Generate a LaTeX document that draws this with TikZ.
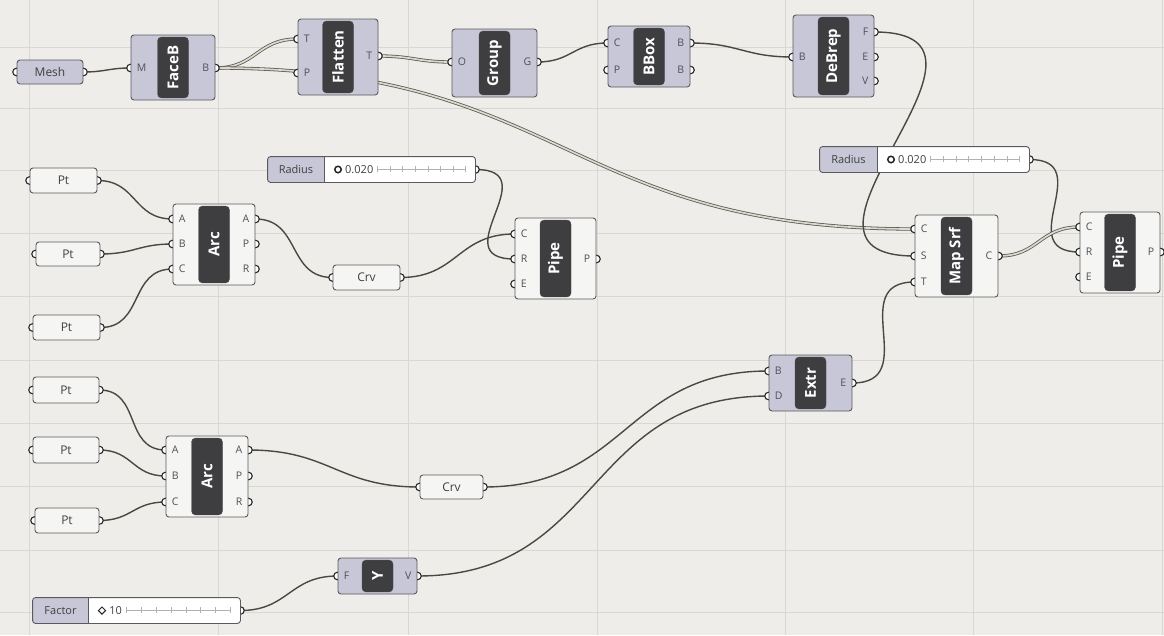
\documentclass[tikz,border=0pt]{standalone}
\usepackage{fontspec}
\setmainfont{Open Sans}
\usetikzlibrary{positioning, fit, calc, shapes.geometric}

\definecolor{canvas}{HTML}{EEEDE9}
\definecolor{gridcol}{HTML}{D9D7D1}
\definecolor{lav}{HTML}{C7C7D8}
\definecolor{paper}{HTML}{F5F5F3}
\definecolor{edge}{HTML}{5A5A5E}
\definecolor{capfill}{HTML}{3E3E40}
\definecolor{wirecol}{HTML}{4B4840}
\definecolor{treefill}{HTML}{DCD9CE}
\definecolor{portcol}{HTML}{505055}

\pgfdeclarelayer{grid}
\pgfdeclarelayer{wires}
\pgfdeclarelayer{grips}
\pgfsetlayers{grid,wires,grips,main}

\tikzset{
  compbox/.style={draw=edge, line width=0.9pt, rounded corners=3pt, inner sep=0pt},
  capbox/.style={fill=capfill, draw=black!70, rounded corners=4pt, inner sep=0pt},
  captext/.style={rotate=90, text=white, font=\fontsize{15}{15}\selectfont\bfseries, inner sep=0pt},
  portlbl/.style={text=portcol, font=\fontsize{10.5}{10.5}\selectfont, inner sep=0pt},
  paramtext/.style={text=black!75, font=\fontsize{12}{12}\selectfont, inner sep=0pt},
  grip/.style={draw=black!85, fill=white, line width=1.1pt},
  wire/.style={draw=wirecol, line width=1.4pt, out=0, in=180, looseness=1.2},
  tree/.style={draw=wirecol!90, line width=0.8pt, double=treefill, double distance=1.7pt,
               out=0, in=180, looseness=1.2},
  tickline/.style={draw=black!30, line width=0.4pt},
  gridline/.style={draw=gridcol, line width=0.8pt},
  ringmark/.style={circle, draw=black!85, line width=1.5pt, minimum size=6.5pt, inner sep=0pt},
  diamark/.style={diamond, draw=black!85, line width=1pt, minimum size=7.5pt, inner sep=0pt},
}

% component: name, left, top, right, bottom, fill, caption
\newcommand{\ghcomp}[7]{%
  \node[compbox, fill=#6, fit={(#2,#3) (#4,#5)}] (#1) {};
  \node[capbox, fit={($(#1.north)+(-15.5,2.5)$) ($(#1.south)+(15.5,-2.5)$)}] (#1-cap) {};
  \node[captext] at (#1-cap.center) {#7};
}
% input port: box, id, y, label
\newcommand{\ghin}[4]{%
  \coordinate (#1-#2) at (#1.west |- 0,#3);
  \begin{pgfonlayer}{grips}\draw[grip] (#1-#2) circle[radius=3.8pt];\end{pgfonlayer}
  \node[portlbl, anchor=west] at ([xshift=6pt]#1-#2) {#4};
}
% output port: box, id, y, label
\newcommand{\ghout}[4]{%
  \coordinate (#1-#2) at (#1.east |- 0,#3);
  \begin{pgfonlayer}{grips}\draw[grip] (#1-#2) circle[radius=3.8pt];\end{pgfonlayer}
  \node[portlbl, anchor=east] at ([xshift=-6pt]#1-#2) {#4};
}
% parameter: name, left, top, right, bottom, fill, text
\newcommand{\ghparam}[7]{%
  \node[compbox, fill=#6, fit={(#2,#3) (#4,#5)}] (#1) {};
  \node[paramtext] at (#1.center) {#7};
  \coordinate (#1-in) at (#1.west);
  \coordinate (#1-out) at (#1.east);
  \begin{pgfonlayer}{grips}
    \draw[grip] (#1-in) circle[radius=3.8pt];
    \draw[grip] (#1-out) circle[radius=3.8pt];
  \end{pgfonlayer}
}
% slider: name, left, top, right, bottom, split, label, value, marker
\newcommand{\ghslider}[9]{%
  \node[compbox, draw=none, fill=white, fit={(#2,#3) (#4,#5)}] (#1) {};
  \begin{scope}
    \clip (#2,#3) rectangle (#6,#5);
    \fill[lav, rounded corners=3pt] (#1.north west) rectangle (#1.south east);
  \end{scope}
  \draw[edge, line width=0.9pt, rounded corners=3pt] (#1.north west) rectangle (#1.south east);
  \draw[edge, line width=0.9pt] (#6,#3) -- (#6,#5);
  \node[paramtext, font=\fontsize{11}{11}\selectfont] (#1-lab) at ($(#2,#3)!0.5!(#6,#5)$) {#7};
  \node[#9] (#1-mark) at ($(#6,#3)!0.5!(#6,#5)+(14,0)$) {};
  \node[paramtext, font=\fontsize{11}{11}\selectfont, anchor=west] (#1-val)
    at ([xshift=3pt]#1-mark.east) {#8};
  \coordinate (#1-t0) at ([xshift=4pt]#1-val.east);
  \coordinate (#1-t1) at ([xshift=-10pt]#1.east);
  \draw[tickline] (#1-t0) -- (#1-t1);
  \foreach \k in {0,...,7}
    \draw[tickline] ($(#1-t0)!\k/7!(#1-t1)+(0,2)$) -- ++(0,-6);
  \coordinate (#1-out) at (#1.east);
  \begin{pgfonlayer}{grips}\draw[grip] (#1-out) circle[radius=3.8pt];\end{pgfonlayer}
}

\begin{document}
\begin{tikzpicture}[x=1pt, y=-1pt]
  \useasboundingbox (0,0) rectangle (1164,635);
  \begin{pgfonlayer}{grid}
    \fill[canvas] (0,0) rectangle (1164,635);
    \foreach \gx in {29,218,408,597,785,973,1162}
      \draw[gridline] (\gx,0) -- (\gx,635);
    \foreach \gy in {47,108,170,233,296,360,423,486,550,612}
      \draw[gridline] (0,\gy) -- (1164,\gy);
  \end{pgfonlayer}

  % top row
  \ghparam{mesh}{17}{60}{83}{84}{lav}{Mesh}
  \ghcomp{faceb}{131}{35}{215}{100}{lav}{FaceB}
  \ghin{faceb}{iM}{68}{M}
  \ghout{faceb}{oB}{68}{B}
  \ghcomp{flatten}{298}{19}{378}{95}{lav}{Flatten}
  \ghin{flatten}{iT}{39}{T}
  \ghin{flatten}{iP}{73}{P}
  \ghout{flatten}{oT}{56}{T}
  \ghcomp{group}{452}{29}{537}{97}{lav}{Group}
  \ghin{group}{iO}{62}{O}
  \ghout{group}{oG}{62}{G}
  \ghcomp{bbox}{608}{26}{690}{87}{lav}{BBox}
  \ghin{bbox}{iC}{43}{C}
  \ghin{bbox}{iP}{70}{P}
  \ghout{bbox}{oB}{43}{B}
  \ghout{bbox}{oB2}{70}{B}
  \ghcomp{debrep}{793}{15}{874}{97}{lav}{DeBrep}
  \ghin{debrep}{iB}{57}{B}
  \ghout{debrep}{oF}{32}{F}
  \ghout{debrep}{oE}{57}{E}
  \ghout{debrep}{oV}{81}{V}

  % right side
  \ghslider{radR}{820}{147}{1029}{172}{877}{Radius}{0.020}{ringmark}
  \ghcomp{mapsrf}{915}{215}{998}{297}{paper}{Map Srf}
  \ghin{mapsrf}{iC}{229}{C}
  \ghin{mapsrf}{iS}{256}{S}
  \ghin{mapsrf}{iT}{282}{T}
  \ghout{mapsrf}{oC}{256}{C}
  \ghcomp{pipeR}{1080}{212}{1160}{293}{paper}{Pipe}
  \ghin{pipeR}{iC}{227}{C}
  \ghin{pipeR}{iR}{252}{R}
  \ghin{pipeR}{iE}{277}{E}
  \ghout{pipeR}{oP}{252}{P}
  \ghcomp{extr}{769}{355}{852}{411}{lav}{Extr}
  \ghin{extr}{iB}{371}{B}
  \ghin{extr}{iD}{396}{D}
  \ghout{extr}{oE}{383}{E}

  % upper arc
  \ghparam{pt1}{30}{168}{97}{193}{paper}{Pt}
  \ghparam{pt2}{36}{242}{100}{266}{paper}{Pt}
  \ghparam{pt3}{33}{315}{100}{340}{paper}{Pt}
  \ghcomp{arcT}{173}{204}{255}{285}{paper}{Arc}
  \ghin{arcT}{iA}{219}{A}
  \ghin{arcT}{iB}{244}{B}
  \ghin{arcT}{iC}{269}{C}
  \ghout{arcT}{oA}{219}{A}
  \ghout{arcT}{oP}{244}{P}
  \ghout{arcT}{oR}{269}{R}
  \ghslider{radL}{268}{157}{475}{182}{324}{Radius}{0.020}{ringmark}
  \ghparam{crvT}{333}{265}{400}{290}{paper}{Crv}
  \ghcomp{pipeT}{515}{218}{596}{299}{paper}{Pipe}
  \ghin{pipeT}{iC}{234}{C}
  \ghin{pipeT}{iR}{259}{R}
  \ghin{pipeT}{iE}{284}{E}
  \ghout{pipeT}{oP}{259}{P}

  % lower arc
  \ghparam{pt4}{33}{377}{99}{403}{paper}{Pt}
  \ghparam{pt5}{33}{437}{99}{463}{paper}{Pt}
  \ghparam{pt6}{35}{508}{99}{533}{paper}{Pt}
  \ghcomp{arcB}{166}{436}{248}{517}{paper}{Arc}
  \ghin{arcB}{iA}{450}{A}
  \ghin{arcB}{iB}{476}{B}
  \ghin{arcB}{iC}{502}{C}
  \ghout{arcB}{oA}{450}{A}
  \ghout{arcB}{oP}{476}{P}
  \ghout{arcB}{oR}{502}{R}
  \ghparam{crvB}{420}{475}{483}{499}{paper}{Crv}
  \ghcomp{ycomp}{338}{558}{417}{594}{lav}{Y}
  \ghin{ycomp}{iF}{576}{F}
  \ghout{ycomp}{oV}{576}{V}
  \ghslider{factor}{33}{598}{240}{623}{88}{Factor}{10}{diamark}

  % wires
  \begin{pgfonlayer}{wires}
    \draw[wire] (mesh-out) to (faceb-iM);
    \draw[tree] (faceb-oB) to (flatten-iT);
    \draw[tree, looseness=1.25] (faceb-oB) to (mapsrf-iC);
    \draw[tree] (flatten-oT) to (group-iO);
    \draw[wire] (group-oG) to (bbox-iC);
    \draw[wire] (bbox-oB) to (debrep-iB);
    \draw[wire, looseness=1.8] (debrep-oF) to (mapsrf-iS);
    \draw[wire, looseness=1.67] (radR-out) to (pipeR-iR);
    \draw[tree] (mapsrf-oC) to (pipeR-iC);
    \draw[wire, looseness=1.5] (extr-oE) to (mapsrf-iT);
    \draw[wire] (pt1-out) to (arcT-iA);
    \draw[wire] (pt2-out) to (arcT-iB);
    \draw[wire] (pt3-out) to (arcT-iC);
    \draw[wire] (arcT-oA) to (crvT-in);
    \draw[wire] (crvT-out) to (pipeT-iC);
    \draw[wire, looseness=1.9] (radL-out) to (pipeT-iR);
    \draw[wire] (pt4-out) to (arcB-iA);
    \draw[wire] (pt5-out) to (arcB-iB);
    \draw[wire] (pt6-out) to (arcB-iC);
    \draw[wire] (arcB-oA) to (crvB-in);
    \draw[wire] (crvB-out) to (extr-iB);
    \draw[wire] (ycomp-oV) to (extr-iD);
    \draw[wire] (factor-out) to (ycomp-iF);
  \end{pgfonlayer}
\end{tikzpicture}
\end{document}
